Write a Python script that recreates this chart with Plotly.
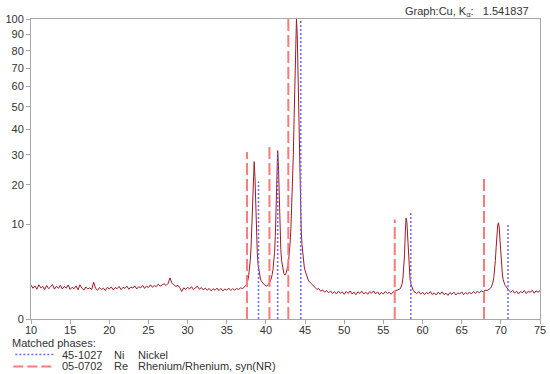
import numpy as np
import plotly.graph_objects as go

# ---- measured XRD scan (2-theta in degrees, relative intensity) ----
# segment grids: (start, step) with intensities read off the picture
scan_a_start, scan_a_step = 10.0, 0.25
scan_a = [1.28, 1.05, 1.22, 0.98, 1.30, 1.08, 1.18, 0.96,
          1.25, 1.02, 1.15, 1.32, 0.99, 1.20, 1.04, 1.26,
          1.00, 1.18, 1.06, 1.29, 0.97, 1.12, 1.02, 1.22,
          0.95, 1.30, 1.05, 0.93, 1.14, 1.00, 1.08, 0.96,
          1.50, 1.04, 0.92, 1.10, 0.96, 1.06, 0.90, 1.12,
          1.00, 1.15, 0.94, 1.10, 1.02, 1.18, 0.96, 1.12,
          1.04, 1.20, 0.98, 1.14, 1.06, 1.22, 1.00, 1.16,
          1.08, 1.26, 1.04, 1.20, 1.10, 1.30, 1.12, 1.24,
          1.16, 1.34, 1.20, 1.28, 1.38, 1.24, 1.40, 1.88,
          1.42, 1.30, 1.18, 1.26, 1.10, 0.84, 1.08, 0.98,
          1.12, 1.00, 1.16, 0.96, 1.08, 1.20, 0.98, 1.10,
          0.94, 1.06, 0.92, 1.04, 0.88, 1.02, 0.92, 1.06,
          0.90, 1.04, 0.88, 1.00, 0.92, 1.06, 0.90, 1.02,
          0.92, 1.04, 0.96, 1.08, 1.02]

scan_b_start, scan_b_step = 37.1, 0.1
scan_b = [1.06, 1.10, 1.14, 1.22, 1.32, 1.46, 1.70, 2.10, 2.80, 3.80,
          5.60, 9.20, 16.0, 24.0, 27.5, 22.5, 14.0, 7.8, 4.8, 3.3,
          2.5, 2.0, 1.78, 1.62, 1.52, 1.44, 1.36, 1.30, 1.26, 1.22,
          1.20, 1.24, 1.30, 1.38, 1.50, 1.66, 1.88, 2.20, 2.70, 3.50,
          4.90, 7.60, 13.0, 22.0, 31.5, 26.0, 15.5, 8.8, 5.4, 3.8,
          3.0, 2.55, 2.28, 2.16, 2.20, 2.38, 2.68, 3.15, 3.85, 4.90,
          6.60, 9.50, 14.0, 20.5, 30.0, 45.0, 67.0, 91.0, 100.0, 90.0,
          66.0, 42.0, 24.5, 14.5, 9.0, 6.2, 4.6, 3.6, 3.0, 2.6,
          2.3, 2.05, 1.86, 1.70, 1.58]

scan_c_start, scan_c_step = 45.75, 0.25
scan_c = [1.40, 1.22, 1.10, 0.98, 1.02, 0.86, 0.94, 0.80,
          0.90, 0.76, 0.88, 0.72, 0.84, 0.70, 0.86, 0.74,
          0.82, 0.68, 0.84, 0.72, 0.88, 0.70, 0.80, 0.66,
          0.82, 0.72, 0.86, 0.70, 0.80, 0.68, 0.84, 0.74,
          0.88, 0.70, 0.82, 0.66, 0.78, 0.70, 0.84, 0.72,
          0.80, 0.68, 0.82, 0.86, 0.92, 0.96]

scan_d_start, scan_d_step = 57.1, 0.1
scan_d = [1.00, 1.06, 1.18, 1.40, 1.85, 2.70, 4.60, 8.40, 11.3, 10.4,
          7.0, 4.2, 2.6, 1.80, 1.40, 1.16, 1.00, 0.92, 0.84, 0.80]

scan_e_start, scan_e_step = 59.25, 0.25
scan_e = [0.72, 0.84, 0.68, 0.80, 0.66, 0.78, 0.70, 0.84,
          0.66, 0.76, 0.64, 0.80, 0.68, 0.82, 0.66, 0.74,
          0.62, 0.78, 0.68, 0.80, 0.64, 0.76, 0.70, 0.82,
          0.66, 0.78, 0.68, 0.80, 0.70, 0.84, 0.72, 0.86,
          0.76, 0.88, 0.82, 0.92, 0.90, 0.98]

scan_f_start, scan_f_step = 68.6, 0.1
scan_f = [1.00, 1.06, 1.14, 1.28, 1.52, 1.92, 2.60, 3.80, 5.70, 8.00,
          9.80, 10.3, 9.20, 6.80, 4.50, 3.00, 2.15, 1.72, 1.46, 1.32,
          1.22, 1.12, 1.04, 0.98, 0.92]

scan_g_start, scan_g_step = 71.25, 0.25
scan_g = [0.80, 0.92, 0.74, 0.86, 0.70, 0.84, 0.76, 0.90,
          0.72, 0.86, 0.78, 0.92, 0.74, 0.88, 0.80, 0.90]

# ---- matched phases (stick patterns) ----
ni_pos = [39.05, 41.5, 44.45, 58.5, 70.92]
ni_int = [21, 31, 100, 13, 10]
re_pos = [37.58, 40.45, 42.86, 56.45, 67.85]
re_int = [31, 34, 100, 11, 22]

y_tick_values = [0, 10, 20, 30, 40, 50, 60, 70, 80, 90, 100]
x_tick_values = list(range(10, 80, 5))

# ---- build scan ----
segments = [(scan_a_start, scan_a_step, scan_a), (scan_b_start, scan_b_step, scan_b),
            (scan_c_start, scan_c_step, scan_c), (scan_d_start, scan_d_step, scan_d),
            (scan_e_start, scan_e_step, scan_e), (scan_f_start, scan_f_step, scan_f),
            (scan_g_start, scan_g_step, scan_g)]
two_theta, intensity = [], []
for start, step, vals in segments:
    two_theta += [round(start + i * step, 3) for i in range(len(vals))]
    intensity += vals
sq = np.sqrt(np.array(intensity))  # square-root intensity scale


def sticks(pos, hts):
    xs, ys = [], []
    for p, h in zip(pos, hts):
        xs += [p, p, None]
        ys += [0, np.sqrt(h), None]
    return xs, ys


fig = go.Figure()
fig.add_trace(go.Scatter(x=two_theta, y=sq, mode="lines",
                         line=dict(color="#a01a24", width=1), showlegend=False,
                         hoverinfo="skip"))
rx, ry = sticks(re_pos, re_int)
fig.add_trace(go.Scatter(x=rx, y=ry, mode="lines", connectgaps=False,
                         line=dict(color="#ff7b7b", width=2, dash="12px,4px"),
                         showlegend=False))
nx, ny = sticks(ni_pos, ni_int)
fig.add_trace(go.Scatter(x=nx, y=ny, mode="lines", connectgaps=False,
                         line=dict(color="#6a6aff", width=1.5, dash="2px,2px"),
                         showlegend=False))

axis_col = "#a8a8a8"
font = dict(family="Liberation Sans, Arial, sans-serif", size=11, color="#333333")
fig.update_xaxes(range=[10, 75], tickvals=x_tick_values, ticks="outside", ticklen=4,
                 tickcolor=axis_col, showline=True, linecolor=axis_col, linewidth=1,
                 mirror=True, showgrid=False, zeroline=False, tickfont=font,
                 automargin=False, ticklabelstandoff=-3)
fig.update_yaxes(range=[0, 10], tickvals=[np.sqrt(v) for v in y_tick_values],
                 ticktext=[str(v) for v in y_tick_values], ticks="outside", ticklen=4,
                 tickcolor=axis_col, showline=True, linecolor=axis_col, linewidth=1,
                 mirror=True, showgrid=False, zeroline=False, tickfont=font,
                 automargin=False)

# legend (drawn as text + swatches below the axis)
def px_x(p):
    return (p - 30.7) / 509.0


def px_y(p):
    return (319.0 - p) / 300.0


ann = []
ann.append(dict(text="Graph:Cu, K<sub>α</sub>:   1.541837", x=px_x(531), y=px_y(12),
                xref="paper", yref="paper", xanchor="right", yanchor="middle",
                showarrow=False, font=dict(family=font["family"], size=11, color="#333333")))
ann.append(dict(text="Matched phases:", x=px_x(10), y=px_y(343), xref="paper", yref="paper",
                xanchor="left", yanchor="middle", showarrow=False, font=font))
rows = [(354.5, "45-1027", "Ni", "Nickel"), (366.5, "05-0702", "Re", "Rhenium/Rhenium, syn(NR)")]
for yy, code, sym, name in rows:
    for xx, t in [(60, code), (112, sym), (136, name)]:
        ann.append(dict(text=t, x=px_x(xx), y=px_y(yy), xref="paper", yref="paper",
                        xanchor="left", yanchor="middle", showarrow=False, font=font))

shapes = [
    dict(type="line", xref="paper", yref="paper", x0=px_x(15), x1=px_x(53),
         y0=px_y(354.5), y1=px_y(354.5), line=dict(color="#6a6aff", width=1.5, dash="2px,2px")),
    dict(type="line", xref="paper", yref="paper", x0=px_x(13), x1=px_x(53),
         y0=px_y(366.5), y1=px_y(366.5), line=dict(color="#ff7b7b", width=2, dash="10px,4px")),
]

fig.update_layout(width=550, height=374, margin=dict(l=31, r=10, t=19, b=55),
                  plot_bgcolor="white", paper_bgcolor="white", showlegend=False,
                  annotations=ann, shapes=shapes, font=font)

fig.write_html("out.html", config={"displayModeBar": False},
               post_script="document.body.style.margin='0';document.body.style.padding='0';")
